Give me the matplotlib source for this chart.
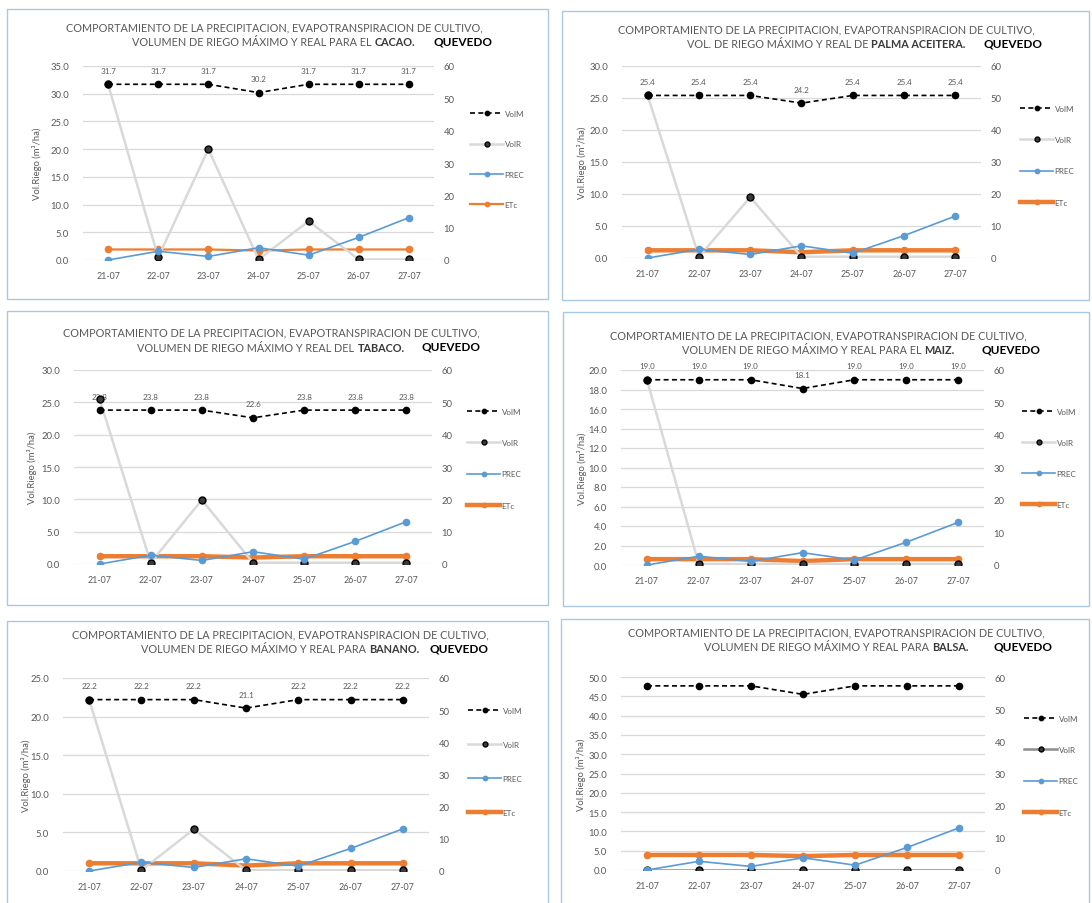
import matplotlib
matplotlib.use('Agg')
import matplotlib.pyplot as plt
from matplotlib.patches import Rectangle
from matplotlib.offsetbox import TextArea, HPacker, AnnotationBbox
from matplotlib.ticker import FormatStrFormatter, MultipleLocator

plt.rcParams['font.family'] = ['Lato', 'DejaVu Sans']

# ---------------- data ----------------
dates = ['21-07', '22-07', '23-07', '24-07', '25-07', '26-07', '27-07']
series_names = ['VolM', 'VolR', 'PREC', 'ETc']

crops = ['CACAO.', 'PALMA ACEITERA.', 'TABACO.', 'MAIZ.', 'BANANO.', 'BALSA.']
title_line1 = 'COMPORTAMIENTO DE LA PRECIPITACION, EVAPOTRANSPIRACION DE CULTIVO,'
title_line2 = ['VOLUMEN DE RIEGO MÁXIMO Y REAL PARA EL',
               'VOL. DE RIEGO MÁXIMO Y REAL DE',
               'VOLUMEN DE RIEGO MÁXIMO Y REAL DEL',
               'VOLUMEN DE RIEGO MÁXIMO Y REAL PARA EL',
               'VOLUMEN DE RIEGO MÁXIMO Y REAL PARA',
               'VOLUMEN DE RIEGO MÁXIMO Y REAL PARA']
station = 'QUEVEDO'
ylabel = 'Vol.Riego (m³/ha)'

# precipitation (secondary axis, same station for all crops)
prec = [0.0, 2.7, 1.1, 3.8, 1.5, 7.0, 13.1]

volm_cacao = [31.7, 31.7, 31.7, 30.2, 31.7, 31.7, 31.7]
volr_cacao = [31.7, 0.5, 20.0, 0.1, 7.0, 0.1, 0.1]
etc_cacao = [1.9, 1.9, 1.9, 1.7, 1.9, 1.9, 1.9]

volm_palma = [25.4, 25.4, 25.4, 24.2, 25.4, 25.4, 25.4]
volr_palma = [25.4, 0.2, 9.5, 0.2, 0.2, 0.2, 0.2]
etc_palma = [1.2, 1.2, 1.2, 0.9, 1.2, 1.2, 1.2]

volm_tabaco = [23.8, 23.8, 23.8, 22.6, 23.8, 23.8, 23.8]
volr_tabaco = [25.5, 0.2, 9.9, 0.2, 0.2, 0.2, 0.2]
etc_tabaco = [1.2, 1.2, 1.2, 1.0, 1.2, 1.2, 1.2]

volm_maiz = [19.0, 19.0, 19.0, 18.1, 19.0, 19.0, 19.0]
volr_maiz = [19.0, 0.1, 0.1, 0.1, 0.1, 0.1, 0.1]
etc_maiz = [0.6, 0.6, 0.6, 0.4, 0.6, 0.6, 0.6]

volm_banano = [22.2, 22.2, 22.2, 21.1, 22.2, 22.2, 22.2]
volr_banano = [22.2, 0.1, 5.4, 0.1, 0.1, 0.1, 0.1]
etc_banano = [1.0, 1.0, 1.0, 0.7, 1.0, 1.0, 1.0]

volm_balsa = [47.7, 47.7, 47.7, 45.5, 47.7, 47.7, 47.7]
volr_balsa = [0.0, 0.0, 0.0, 0.0, 0.0, 0.0, 0.0]
etc_balsa = [3.9, 3.9, 3.9, 3.6, 3.9, 3.9, 3.9]

volm_all = [volm_cacao, volm_palma, volm_tabaco, volm_maiz, volm_banano, volm_balsa]
volr_all = [volr_cacao, volr_palma, volr_tabaco, volr_maiz, volr_banano, volr_balsa]
etc_all = [etc_cacao, etc_palma, etc_tabaco, etc_maiz, etc_banano, etc_balsa]
show_labels = [True, True, True, True, True, False]

left_max = [35, 30, 30, 20, 25, 50]
left_step = [5, 5, 5, 2, 5, 5]
right_max = 60
right_step = 10

# ---------------- layout (pixels) ----------------
W, H = 1092, 904
layout = [
    dict(box=(7, 10, 548, 300), plot=(83, 434, 67, 261), cx=274, ty=(28, 43), qx=433, ylx=37, lx=470, ly=115, ls=31.5, elw=1.6),
    dict(box=(562, 12, 1089, 301), plot=(622, 981, 67, 259), cx=826, ty=(30, 45), qx=983, ylx=582, lx=1020, ly=110, ls=32.3, elw=3.2),
    dict(box=(7, 312, 548, 606), plot=(74, 432, 371, 565), cx=271, ty=(333, 348), qx=421, ylx=32, lx=467, ly=413, ls=32.3, elw=3.2),
    dict(box=(563, 313, 1089, 607), plot=(621, 984, 371, 566), cx=818, ty=(336, 351), qx=981, ylx=582, lx=1022, ly=413, ls=32.0, elw=3.2),
    dict(box=(7, 622, 548, 910), plot=(63, 429, 679, 872), cx=280, ty=(635, 650), qx=430, ylx=26, lx=468, ly=712, ls=35.0, elw=3.2),
    dict(box=(561, 620, 1089, 910), plot=(621, 985, 678, 871), cx=836, ty=(633, 648), qx=993, ylx=581, lx=1024, ly=720, ls=32.3, elw=3.2),
]

GRAY = '#595959'
BLUE = '#5b9bd5'
ORANGE = '#ed7d31'
TFS = 7.8

fig = plt.figure(figsize=(W / 100, H / 100), dpi=100)


def fx(x):
    return x / W


def fy(y):
    return 1 - y / H


x_idx = list(range(len(dates)))

for k in range(6):
    L = layout[k]
    bx0, by0, bx1, by1 = L['box']
    fig.patches.append(Rectangle((fx(bx0), fy(by1)), fx(bx1 - bx0), (by1 - by0) / H,
                                 transform=fig.transFigure, fill=False,
                                 edgecolor='#a9c8e4', lw=1.0, zorder=0))
    x0, x1, yt, yb = L['plot']
    ax = fig.add_axes([fx(x0), fy(yb), (x1 - x0) / W, (yb - yt) / H])
    ax.set_xlim(-0.5, len(dates) - 0.5)
    ax.set_ylim(0, left_max[k])
    ax.yaxis.set_major_locator(MultipleLocator(left_step[k]))
    ax.yaxis.set_major_formatter(FormatStrFormatter('%.1f'))
    ax.set_xticks(x_idx)
    ax.set_xticklabels(dates)
    ax.grid(axis='y', color='#d9d9d9', lw=0.9)
    ax.set_axisbelow(True)
    for s in ax.spines.values():
        s.set_visible(False)
    ax.tick_params(axis='y', length=0, labelsize=6.8, colors=GRAY, pad=10)
    ax.tick_params(axis='x', length=0, labelsize=6.4, colors=GRAY, pad=8)
    ax.patch.set_alpha(0)

    ax2 = ax.twinx()
    ax2.set_ylim(0, right_max)
    ax2.yaxis.set_major_locator(MultipleLocator(right_step))
    for s in ax2.spines.values():
        s.set_visible(False)
    ax2.tick_params(axis='y', length=0, labelsize=6.8, colors=GRAY, pad=7)

    volr_line_col = '#8c8c8c' if k == 5 else '#d9d9d9'
    h_etc, = ax.plot(x_idx, etc_all[k], color=ORANGE, lw=L['elw'], marker='o', ms=4.5,
                     mfc=ORANGE, mec=ORANGE, zorder=3, label=series_names[3])
    h_volr, = ax.plot(x_idx, volr_all[k], color=volr_line_col, lw=1.8, marker='o', ms=5,
                      mfc='#3a3a3a', mec='black', mew=1.0, zorder=4, label=series_names[1])
    h_volm, = ax.plot(x_idx, volm_all[k], color='black', lw=1.2, ls=(0, (3, 2)), marker='o', ms=4.5,
                      mfc='black', mec='black', zorder=5, label=series_names[0])
    h_prec, = ax2.plot(x_idx, prec, color=BLUE, lw=1.2, marker='o', ms=4.5,
                       mfc=BLUE, mec=BLUE, zorder=3, label=series_names[2])

    if show_labels[k]:
        for i, v in enumerate(volm_all[k]):
            ax.annotate(f'{v:.1f}', (i, v), xytext=(0, 10), textcoords='offset points',
                        ha='center', va='center', fontsize=5.8, color=GRAY)

    # y label
    fig.text(fx(L['ylx']), fy((yt + yb) / 2), ylabel, rotation=90, ha='center', va='center',
             fontsize=6.8, color=GRAY)

    # titles
    fig.text(fx(L['cx']), fy(L['ty'][0]), title_line1, ha='center', va='center',
             fontsize=TFS, color=GRAY)
    ta1 = TextArea(title_line2[k], textprops=dict(fontsize=TFS, color=GRAY))
    ta2 = TextArea(crops[k], textprops=dict(fontsize=TFS, color='#3a3a3a', fontweight='bold'))
    pack = HPacker(children=[ta1, ta2], pad=0, sep=2.2, align='baseline')
    ab = AnnotationBbox(pack, (fx(L['cx']), fy(L['ty'][1])), xycoords='figure fraction',
                        box_alignment=(0.5, 0.5), frameon=False, pad=0)
    fig.add_artist(ab)
    fig.text(fx(L['qx']), fy(L['ty'][1] - 1), station, ha='left', va='center',
             fontsize=8.5, fontweight='bold', color='black')

    # legend
    fsz = 5.8
    fpx = fsz * 100 / 72
    fig.legend([h_volm, h_volr, h_prec, h_etc], series_names, loc='upper left',
               bbox_to_anchor=(fx(L['lx']), fy(L['ly'] - fpx / 2)), bbox_transform=fig.transFigure,
               frameon=False, fontsize=fsz, labelcolor=GRAY, handlelength=33 / fpx,
               handletextpad=0.2, borderaxespad=0, borderpad=0, markerscale=0.7,
               labelspacing=L['ls'] / fpx - 1, numpoints=1)

fig.savefig('out.png', dpi=100)
